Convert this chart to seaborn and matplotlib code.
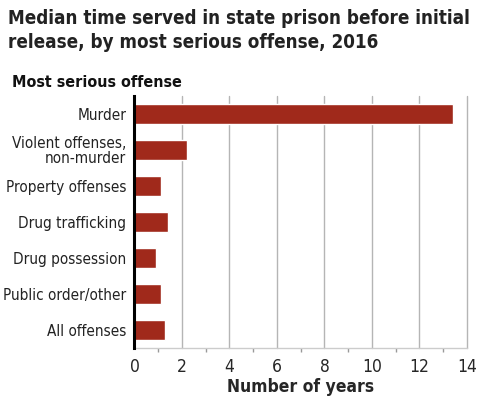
import matplotlib
matplotlib.use("Agg")
import matplotlib.pyplot as plt
import pandas as pd
import seaborn as sns

offenses = [
    "Murder",
    "Violent offenses,\nnon-murder",
    "Property offenses",
    "Drug trafficking",
    "Drug possession",
    "Public order/other",
    "All offenses",
]
median_years = [13.4, 2.2, 1.1, 1.4, 0.9, 1.1, 1.3]
x_ticks = [0, 2, 4, 6, 8, 10, 12, 14]

bar_color = "#a0291b"

sns.set_theme(style="white")
plt.rcParams["font.family"] = ["DejaVu Sans"]
plt.rcParams["font.stretch"] = "condensed"

df = pd.DataFrame({"offense": offenses, "years": median_years})

fig = plt.figure(figsize=(4.95, 4.01), dpi=100)
ax = fig.add_axes([0.2717, 0.1322, 0.6717, 0.6284])

sns.barplot(data=df, x="years", y="offense", color=bar_color, width=0.58,
            saturation=1, ax=ax, zorder=3)

ax.set_xlim(0, 14)
ax.set_ylim(6.5, -0.5)
ax.set_xticks(x_ticks)
ax.set_xticks(range(1, 14, 2), minor=True)
ax.xaxis.grid(True, which="major", color="#b5b5b5", linewidth=1, zorder=0)
for gl in ax.get_xgridlines():
    gl.set_clip_on(False)
ax.tick_params(axis="x", which="major", length=5, color="#999999", labelsize=12.5, pad=2)
ax.tick_params(axis="x", which="minor", length=3, color="#999999", bottom=True)
ax.tick_params(axis="y", length=0, labelsize=11, labelcolor="#222222", pad=6)
for lbl in ax.get_yticklabels():
    lbl.set_linespacing(0.95)

for side in ["top", "right"]:
    ax.spines[side].set_visible(False)
ax.spines["bottom"].set_color("#cccccc")
ax.spines["bottom"].set_linewidth(1)
ax.spines["left"].set_color("black")
ax.spines["left"].set_linewidth(2.2)
ax.spines["left"].set_zorder(5)

ax.set_ylabel("")
ax.set_xlabel("Number of years", fontsize=12.5, fontweight="bold", labelpad=2)

fig.text(0.016, 0.978, "Median time served in state prison before initial\nrelease, by most serious offense, 2016",
         fontsize=13.5, fontweight="bold", color="#222222", va="top", ha="left", linespacing=1.35)
fig.text(0.024, 0.795, "Most serious offense", fontsize=11.5, fontweight="bold",
         color="#111111", va="center", ha="left")

fig.savefig("out.png", dpi=100)
